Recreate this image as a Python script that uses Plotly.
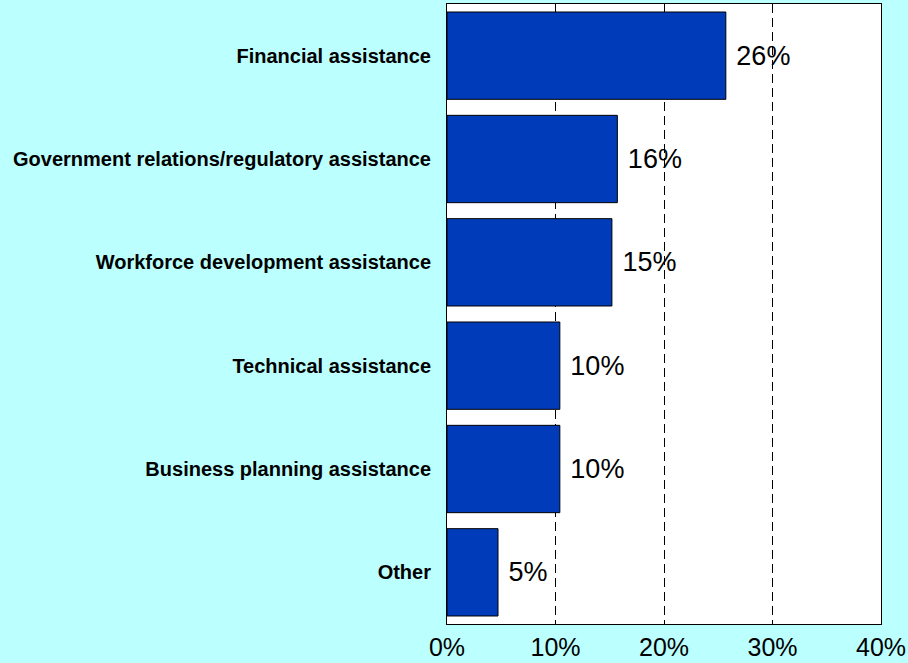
import plotly.graph_objects as go

# Share of respondents by type of assistance (percent)
categories = [
    "Financial assistance",
    "Government relations/regulatory assistance",
    "Workforce development assistance",
    "Technical assistance",
    "Business planning assistance",
    "Other",
]
shares = [25.7, 15.7, 15.2, 10.4, 10.4, 4.7]
x_ticks = [0, 10, 20, 30, 40]
x_tick_labels = ["0%", "10%", "20%", "30%", "40%"]

fig = go.Figure(
    go.Bar(
        x=shares,
        y=categories,
        orientation="h",
        marker=dict(color="#003cb9", line=dict(color="black", width=1)),
        texttemplate="\u00a0%{x:.0f}%",
        textposition="outside",
        textfont=dict(family="Liberation Sans, Arial", size=27, color="black"),
        cliponaxis=False,
        hoverinfo="skip",
    )
)

fig.update_layout(
    width=908,
    height=663,
    margin=dict(l=447, r=27, t=4, b=39),
    paper_bgcolor="#bbffff",
    plot_bgcolor="white",
    bargap=0.155,
    showlegend=False,
    font=dict(family="Liberation Sans, Arial", color="black"),
)

fig.update_xaxes(
    range=[0, 40],
    tickvals=x_ticks,
    ticktext=x_tick_labels,
    tickfont=dict(size=25, color="black"),
    showgrid=True,
    gridcolor="black",
    gridwidth=1.2,
    griddash="9px,5px",
    zeroline=False,
    showline=True,
    linecolor="black",
    linewidth=1,
    mirror=True,
    ticks="",
    ticklabelstandoff=1,
    automargin=False,
)

fig.update_yaxes(
    categoryorder="array",
    categoryarray=categories[::-1],
    tickfont=dict(size=20, color="black", weight="bold"),
    showgrid=False,
    showline=True,
    linecolor="black",
    linewidth=1,
    mirror=True,
    ticks="",
    ticklabelstandoff=11,
    automargin=False,
)

fig.write_html("out.html")
